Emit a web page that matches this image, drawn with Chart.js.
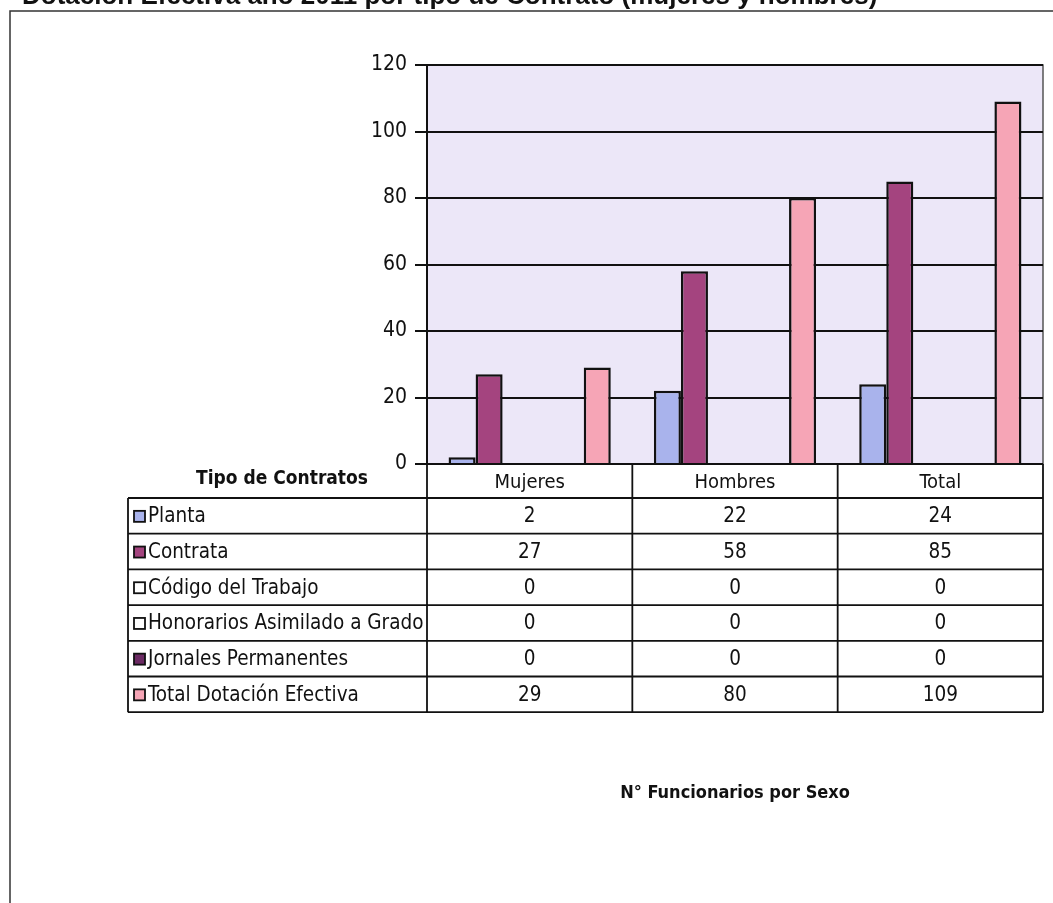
<!DOCTYPE html>
<html lang="es">
<head>
<meta charset="utf-8">
<title>Dotación Efectiva año 2011</title>
<script src="https://cdn.jsdelivr.net/npm/chart.js@4.4.1/dist/chart.umd.min.js"></script>
<style>
  html, body { margin: 0; padding: 0; background: #fff; overflow: hidden; }
  #grafico { display: block; }
</style>
</head>
<body>
<canvas id="grafico" width="1053" height="903"></canvas>
<script>
// Datos
const categorias = ['Mujeres', 'Hombres', 'Total'];
const tiposContrato = ['Planta', 'Contrata', 'Código del Trabajo', 'Honorarios Asimilado a Grado', 'Jornales Permanentes', 'Total Dotación Efectiva'];
const planta = [2, 22, 24];
const contrata = [27, 58, 85];
const codigoTrabajo = [0, 0, 0];
const honorarios = [0, 0, 0];
const jornales = [0, 0, 0];
const totalDotacion = [29, 80, 109];
const ticksY = [0, 20, 40, 60, 80, 100, 120];

const coresSerie = ['#A9B3EC', '#A4447F', '#FFFFFF', '#FFFFFF', '#6B2A63', '#F6A5B6'];
const series = [planta, contrata, codigoTrabajo, honorarios, jornales, totalDotacion];

const FONTE = "'Liberation Sans Narrow', 'Arial Narrow', 'DejaVu Sans Condensed', sans-serif";
const TITULO = 'Dotación Efectiva año 2011 por tipo de Contrato (mujeres y hombres)';
const TITULO_EIXO = 'N° Funcionarios por Sexo';

// fundo da página, moldura e área de plotagem
const fundo = {
  id: 'fundo',
  beforeDraw(chart) {
    const { ctx, chartArea: a } = chart;
    ctx.save();
    ctx.fillStyle = '#fff';
    ctx.fillRect(0, 0, chart.width, chart.height);
    // título cortado no topo (a folha original foi recortada aqui)
    ctx.fillStyle = '#111';
    ctx.font = "bold 26px 'Liberation Sans', Arial, sans-serif";
    ctx.textBaseline = 'alphabetic';
    ctx.fillText(TITULO, 22, 4);
    // moldura externa
    ctx.strokeStyle = '#333';
    ctx.lineWidth = 1.5;
    ctx.beginPath();
    ctx.moveTo(10, chart.height + 2);
    ctx.lineTo(10, 11);
    ctx.lineTo(chart.width + 2, 11);
    ctx.stroke();
    // fundo lavanda da área do gráfico
    ctx.fillStyle = '#ECE7F8';
    ctx.fillRect(a.left, a.top, a.right - a.left, a.bottom - a.top);
    ctx.strokeStyle = '#555';
    ctx.lineWidth = 1.5;
    ctx.strokeRect(a.left, a.top, a.right - a.left, a.bottom - a.top);
    ctx.restore();
  }
};

// tabela de dados abaixo do gráfico (faz o papel da legenda)
const tabela = {
  id: 'tabela',
  afterDraw(chart) {
    const { ctx, chartArea: a, scales } = chart;
    const x = scales.x;
    const larg = (a.right - a.left) / categorias.length;
    const topo = a.bottom;
    const altCab = 34;
    const altLinha = 35.7;
    const esq = 128;
    const fim = topo + altCab + altLinha * tiposContrato.length;

    ctx.save();
    ctx.strokeStyle = '#111';
    ctx.lineWidth = 1.8;
    ctx.fillStyle = '#fff';
    ctx.fillRect(a.left, topo, a.right - a.left, fim - topo);
    ctx.fillRect(esq, topo + altCab, a.left - esq, fim - topo - altCab);

    // linhas horizontais
    ctx.beginPath();
    ctx.moveTo(a.left, topo); ctx.lineTo(a.right, topo);
    for (let r = 0; r <= tiposContrato.length; r++) {
      const y = topo + altCab + r * altLinha;
      ctx.moveTo(esq, y); ctx.lineTo(a.right, y);
    }
    // linhas verticais
    ctx.moveTo(esq, topo + altCab); ctx.lineTo(esq, fim);
    for (let c = 0; c <= categorias.length; c++) {
      const xx = a.left + c * larg;
      ctx.moveTo(xx, topo); ctx.lineTo(xx, fim);
    }
    ctx.stroke();

    // cabeçalho
    ctx.fillStyle = '#111';
    ctx.textAlign = 'center';
    ctx.textBaseline = 'middle';
    ctx.font = `20px ${FONTE}`;
    categorias.forEach((cat, i) => {
      ctx.fillText(cat, x.getPixelForValue(i), topo + altCab / 2 + 2);
    });
    ctx.font = `bold 19px ${FONTE}`;
    ctx.fillText('Tipo de Contratos', 282, topo + altCab / 2 - 2);

    // linhas de dados
    tiposContrato.forEach((tipo, r) => {
      const yc = topo + altCab + r * altLinha + altLinha / 2 + 1;
      // quadradinho da cor
      ctx.fillStyle = coresSerie[r];
      ctx.fillRect(134, yc - 6, 11, 11);
      ctx.strokeStyle = '#111';
      ctx.lineWidth = 1.8;
      ctx.strokeRect(134, yc - 6, 11, 11);
      ctx.fillStyle = '#111';
      ctx.textAlign = 'left';
      ctx.font = `20.5px ${FONTE}`;
      ctx.fillText(tipo, 148, yc);
      ctx.textAlign = 'center';
      series[r].forEach((v, i) => {
        ctx.fillText(String(v), x.getPixelForValue(i), yc);
      });
    });

    // título do eixo x
    ctx.font = `bold 18px ${FONTE}`;
    ctx.fillText(TITULO_EIXO, (a.left + a.right) / 2, 793);
    ctx.restore();
  }
};

new Chart(document.getElementById('grafico'), {
  type: 'bar',
  data: {
    labels: categorias,
    datasets: tiposContrato.map((tipo, i) => ({
      label: tipo,
      data: series[i],
      backgroundColor: coresSerie[i],
      borderColor: '#111',
      borderWidth: 2.5,
      borderSkipped: 'bottom',
      categoryPercentage: 0.79,
      barPercentage: 1.0
    }))
  },
  options: {
    responsive: false,
    animation: false,
    devicePixelRatio: 1,
    layout: { padding: { top: 65, right: 10, bottom: 439, left: 0 } },
    plugins: {
      legend: { display: false },
      tooltip: { enabled: false }
    },
    scales: {
      x: { display: false },
      y: {
        min: 0,
        max: 120,
        afterBuildTicks: scale => { scale.ticks = ticksY.map(v => ({ value: v })); },
        afterFit: scale => { scale.width = 427; },
        border: { display: true, color: '#111', width: 2 },
        grid: { color: '#111', lineWidth: 2, tickLength: 12, drawOnChartArea: true },
        ticks: {
          color: '#111',
          padding: 8,
          font: { family: FONTE, size: 21 }
        }
      }
    }
  },
  plugins: [fundo, tabela]
});
</script>
</body>
</html>
